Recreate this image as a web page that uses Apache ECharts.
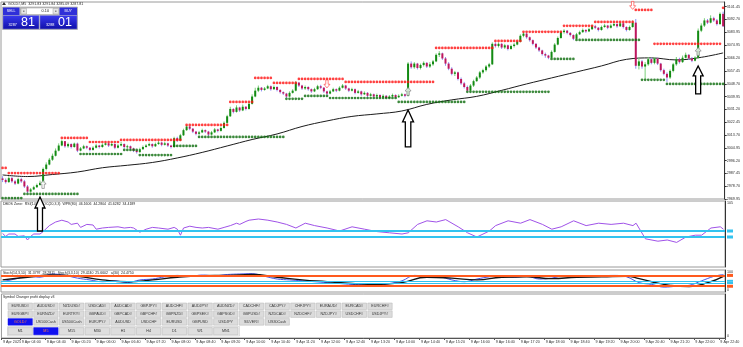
<!DOCTYPE html>
<html><head><meta charset="utf-8">
<script src="https://cdn.jsdelivr.net/npm/echarts@6/dist/echarts.min.js"></script>
<style>html,body{margin:0;padding:0;background:#fff;}#c{width:743px;height:347px;}</style>
</head><body><div id="c"></div>
<script>
// ---------- DATA ----------
const firstOpen = 2984.0;
const startTime = [3, 30]; // first bar 03:30, M5 bars
const closes = [
2983.0,2981.5,2984.2,2982.0,2980.5,2983.5,2982.0,2978.5,2975.0,2976.5,
2978.0,2979.5,2981.0,2990.5,2993.5,2996.8,2999.5,3003.0,3006.5,3009.5,
3006.0,3007.5,3005.5,3007.8,3003.0,3004.5,3006.0,3005.0,3003.5,3005.0,
3006.5,3005.5,3007.0,3008.0,3006.5,3007.5,3005.0,3006.5,3007.5,3005.5,
3006.0,3004.5,3003.0,3002.0,3004.0,3005.5,3006.5,3007.5,3006.0,3007.5,
3008.5,3007.0,3008.0,3006.5,3005.5,3011.5,3010.0,3013.5,3017.0,3019.5,
3018.0,3016.0,3014.5,3015.5,3017.0,3016.0,3014.0,3015.5,3017.5,3016.5,
3018.5,3022.0,3026.5,3031.5,3029.5,3032.5,3030.5,3033.0,3031.5,3035.0,
3040.0,3044.0,3046.0,3044.5,3045.5,3047.0,3045.0,3046.5,3044.5,3043.0,
3042.0,3040.0,3042.5,3044.0,3049.5,3047.5,3045.5,3046.5,3045.0,3043.5,
3045.0,3047.0,3046.0,3043.5,3042.0,3043.5,3045.0,3044.0,3046.0,3047.5,
3045.5,3044.0,3045.0,3042.5,3043.5,3041.5,3042.5,3040.5,3041.5,3040.0,
3041.0,3039.5,3040.5,3039.0,3040.0,3041.0,3039.5,3040.5,3041.5,3040.5,
3062.5,3060.0,3062.5,3059.5,3061.5,3063.0,3060.5,3062.0,3064.0,3068.5,
3069.5,3066.0,3062.5,3059.0,3055.5,3056.5,3052.0,3049.0,3046.5,3044.0,
3047.5,3050.5,3053.0,3056.5,3058.0,3060.5,3062.0,3076.0,3074.5,3076.0,
3073.5,3075.0,3072.5,3074.5,3075.5,3077.5,3081.5,3083.0,3080.5,3078.5,
3076.0,3073.5,3071.5,3069.0,3068.0,3066.5,3070.5,3075.5,3080.0,3084.0,
3085.0,3083.5,3082.0,3079.5,3082.5,3084.0,3085.5,3084.5,3086.0,3088.0,
3087.0,3085.5,3087.5,3088.5,3087.0,3088.5,3089.5,3088.0,3090.0,3087.5,
3085.5,3087.5,3090.5,3061.0,3064.0,3060.5,3062.0,3065.5,3063.0,3066.0,
3062.5,3058.0,3055.5,3053.0,3057.5,3062.0,3065.5,3063.5,3066.5,3068.5,
3066.0,3064.5,3066.5,3085.0,3088.5,3092.0,3090.5,3093.5,3092.0,3089.5,
3096.5,3088.0];
const highs = [
2985.5,2984.0,2985.5,2985.0,2983.0,2984.5,2984.5,2983.0,2979.5,2977.5,
2979.0,2980.5,2982.5,2991.5,2995.0,2998.0,3001.0,3004.5,3008.0,3010.5,
3009.5,3008.5,3008.0,3008.5,3008.5,3005.5,3007.0,3006.5,3005.5,3006.0,
3007.5,3007.0,3008.0,3008.5,3008.5,3008.5,3008.0,3007.5,3009.0,3008.0,
3007.0,3006.5,3005.0,3003.5,3005.0,3006.5,3007.5,3008.5,3008.0,3008.5,
3009.5,3009.0,3009.0,3008.5,3007.0,3012.5,3012.5,3014.5,3018.0,3020.5,
3020.0,3018.5,3016.5,3016.5,3018.0,3017.5,3016.5,3016.5,3018.5,3018.0,
3019.5,3023.0,3027.5,3033.0,3032.0,3034.0,3033.0,3034.5,3033.5,3036.0,
3041.5,3046.0,3047.5,3046.5,3046.5,3048.0,3047.5,3047.5,3047.0,3045.0,
3043.5,3042.5,3043.5,3045.0,3050.5,3050.0,3048.0,3047.5,3047.0,3045.5,
3046.0,3048.0,3048.0,3046.5,3044.0,3044.5,3046.0,3045.5,3047.0,3048.5,
3048.0,3046.0,3046.0,3045.5,3044.5,3044.0,3043.5,3043.0,3042.5,3042.0,
3042.0,3041.5,3041.5,3041.0,3041.0,3042.0,3041.5,3041.5,3042.5,3042.0,
3063.5,3064.0,3063.5,3063.0,3062.5,3064.0,3063.5,3063.5,3065.0,3069.5,
3071.0,3070.0,3067.0,3063.5,3060.0,3057.5,3057.0,3053.0,3050.0,3047.5,
3048.5,3051.5,3054.0,3057.5,3059.0,3061.5,3063.0,3077.0,3077.0,3077.0,
3076.5,3076.0,3075.5,3075.5,3076.5,3078.0,3082.5,3084.0,3083.5,3081.0,
3079.0,3076.5,3074.0,3072.0,3070.0,3068.5,3071.5,3076.5,3081.0,3085.0,
3086.0,3085.5,3084.0,3082.5,3083.5,3085.0,3086.5,3086.0,3087.0,3089.0,
3089.0,3087.5,3088.5,3089.5,3089.0,3089.5,3090.5,3090.0,3091.0,3090.5,
3088.0,3088.5,3092.0,3093.0,3066.5,3065.0,3063.5,3067.0,3066.5,3067.0,
3066.5,3063.0,3059.0,3056.5,3058.5,3063.0,3067.0,3066.5,3068.0,3070.0,
3069.0,3067.0,3067.5,3086.5,3090.0,3093.5,3093.0,3095.5,3094.5,3093.0,
3097.5,3098.0];
const lows = [
2981.5,2980.5,2981.0,2981.0,2979.5,2980.0,2981.0,2977.5,2974.0,2974.5,
2976.0,2977.5,2979.0,2980.5,2989.5,2993.0,2996.0,2999.0,3002.5,3006.0,
3005.0,3005.0,3004.5,3005.0,3002.0,3002.5,3004.0,3004.0,3002.5,3003.0,
3004.5,3004.5,3005.0,3006.5,3005.5,3006.0,3004.0,3004.5,3006.0,3004.5,
3004.5,3003.5,3002.0,3001.0,3001.5,3003.5,3005.0,3006.0,3005.0,3005.5,
3007.0,3006.0,3006.5,3005.5,3004.5,3005.0,3009.0,3009.5,3013.0,3016.5,
3017.0,3015.0,3013.5,3013.5,3015.0,3015.0,3013.0,3013.5,3015.0,3015.5,
3016.0,3018.0,3021.5,3026.0,3028.5,3029.0,3029.5,3030.0,3030.5,3031.0,
3034.5,3039.5,3043.0,3043.5,3044.0,3045.0,3044.0,3044.5,3043.5,3042.0,
3041.0,3039.0,3039.5,3042.0,3043.5,3046.5,3044.5,3044.5,3044.0,3042.5,
3043.0,3044.5,3045.0,3042.5,3041.0,3041.5,3043.0,3043.0,3043.5,3045.5,
3044.5,3043.0,3043.5,3041.5,3042.0,3040.5,3041.0,3039.5,3040.0,3039.5,
3039.5,3039.0,3039.0,3038.5,3038.5,3039.5,3039.0,3039.0,3040.0,3039.5,
3040.0,3059.0,3059.0,3058.5,3058.5,3060.5,3059.5,3059.5,3061.0,3063.5,
3067.0,3065.0,3061.0,3058.0,3054.5,3054.0,3051.0,3048.0,3045.5,3043.5,
3043.5,3046.5,3050.0,3052.0,3055.5,3057.0,3059.5,3061.5,3073.5,3073.5,
3072.5,3072.5,3071.5,3072.0,3073.5,3075.0,3077.0,3080.5,3079.5,3077.5,
3075.0,3072.5,3070.5,3068.0,3066.5,3065.5,3066.0,3070.0,3075.0,3079.5,
3083.0,3082.5,3081.0,3078.5,3079.0,3082.0,3083.5,3083.5,3084.0,3085.5,
3086.0,3084.5,3085.0,3087.0,3086.0,3086.5,3088.0,3087.0,3087.5,3086.5,
3084.5,3085.0,3087.0,3059.0,3058.5,3059.0,3052.0,3061.0,3062.0,3062.0,
3061.5,3057.0,3054.5,3050.0,3052.0,3056.5,3061.0,3062.5,3063.0,3066.0,
3065.0,3063.5,3064.0,3066.0,3084.0,3087.5,3089.5,3090.0,3091.0,3088.5,
3089.0,3087.5];

const priceTicks = [2969.95,2978.70,2987.45,2996.20,3004.95,3013.70,3022.45,3031.20,3039.95,3048.70,3057.45,3066.20,3074.95,3083.95,3092.70,3101.45];
const timeTicks = ['03:30','04:00','04:40','05:20','06:00','06:40','07:20','08:00','08:40','09:20','10:00','10:40','11:20','12:00','12:40','13:20','14:00','14:40','15:20','16:00','16:40','17:20','18:00','18:40','19:20','20:00','20:40','21:20','22:00','22:40'];
const firstTickLabel = '9 Apr 2025';
const dayLabel = '9 Apr';

// resistance / support level runs: [first bar, last bar, price]
const resistance = [[0,1,2991.2],[2,18,2987.7],[19,27,3011.7],[28,37,3008.9],[38,57,3010.3],[59,72,3020.6],[73,80,3036.3],[81,86,3052.7],[87,94,3049.3],[95,109,3052.0],[110,138,3050.0],[139,157,3073.2],[158,166,3078.0],[167,179,3084.2],[180,189,3088.3],[190,202,3091.0],[203,208,3099.2],[209,230,3076.0],[231,231,3100.6]];
const support = [[0,6,2970.6],[7,24,2973.4],[25,38,3000.7],[39,43,3003.5],[44,54,3000.0],[55,62,3006.2],[63,90,3012.4],[91,96,3038.4],[97,104,3040.4],[105,126,3039.0],[127,148,3036.3],[149,175,3043.2],[176,183,3065.7],[184,204,3078.7],[205,212,3051.4],[213,231,3048.6]];

// moving average samples
const maBars = [0,8,16,24,32,40,48,56,64,72,80,88,96,104,112,120,128,136,144,152,160,168,176,184,192,200,208,216,224,231];
const maVals = [2986.4,2985.3,2986.7,2988.4,2991.3,2993.0,2994.9,2998.0,3001.8,3006.2,3010.6,3014.4,3019.5,3023.3,3026.4,3028.1,3030.1,3034.6,3037.7,3040.1,3044.2,3048.6,3052.7,3056.8,3060.9,3065.4,3066.4,3065.0,3066.8,3069.8];

// signal arrows
const buySignals = [[13,2979.9],[130,3043.5],[223,3070.8]];
const sellSignals = [[104,3048.6],[202,3102.3]];
// hand drawn arrows: [bar, tip price]
const noteArrows = [[12,2971.3],[130,3030.8],[223,3060.9]];

// DBOS zone oscillator
const oscBars = [0,1,2,4,5,7,8,9,10,12,13,15,17,19,21,22,24,25,27,29,30,32,34,37,39,41,42,44,46,48,50,53,55,56,57,58,60,62,64,66,69,71,73,75,76,78,79,82,85,88,91,94,97,100,104,108,112,116,120,124,128,130,133,136,139,142,146,149,152,156,158,162,166,169,173,176,179,183,187,191,195,199,202,203,206,210,213,216,219,222,224,227,230,231];
const oscVals = [51,46,50,50,46,47,40,46,50,50,54,64,70,73,70,66,68,61,66,65,58,60,61,62,60,61,60,53,58,61,60,58,61,58,48,60,63,61,60,61,58,61,64,68,66,71,73,75,73,70,66,60,68,64,60,55,62,58,54,52,50,52,66,72,70,74,62,52,45,55,64,72,68,74,66,58,62,72,64,68,66,68,64,68,42,38,40,36,45,48,48,60,62,58];
const oscLevels = [55,45];

// stochastics
const stoBars = [0,8,16,24,32,40,48,56,64,72,80,88,96,104,112,120,128,136,144,152,160,168,176,184,192,200,204,208,214,220,226,231];
const stoSlow = [55,70,82,75,55,45,55,70,78,80,85,70,55,45,35,30,40,70,65,55,70,72,62,70,72,75,62,45,25,18,40,75];
const stoFastBars = [0,4,8,12,16,20,24,28,32,36,40,44,48,52,56,60,64,68,72,76,80,84,88,92,96,100,104,108,112,116,120,124,128,132,136,140,144,148,152,156,160,164,168,172,176,180,184,188,192,196,200,204,208,212,216,220,224,228,231];
const stoFast = [45,60,75,70,88,80,65,55,45,50,40,55,60,72,80,75,82,78,85,88,90,75,60,55,50,45,40,35,30,28,25,35,50,80,75,72,55,45,60,72,78,70,75,60,65,78,72,75,78,80,72,40,30,15,20,25,50,75,85];
const stoLevelsHot = [80,20];
const stoLevelsCool = [50,38];

// buttons
const symbolRows = [
 ['EURUSD#','AUDUSD#','NZDUSD#','USDCAD#','AUDCAD#','GBPJPY#','AUDCHF#','AUDJPY#','AUDNZD#','CADCHF#','CADJPY#','CHFJPY#','EURAUD#','EURCAD#','EURCHF#'],
 ['EURGBP#','EURNZD#','EURTRY#','GBPAUD#','GBPCAD#','GBPCHF#','GBPNZD#','GBPSEK#','GBPSGD#','GBPUSD#','NZDCAD#','NZDCHF#','NZDJPY#','USDCHF#','USDJPY#'],
 ['GOLD#','US100Cash','US500Cash','EURJPY#','AUDUSD','USDCHF','EURUSD','GBPUSD','USDJPY','SILVER#','US30Cash']
];
const timeframes = ['M1','M5','M15','M30','H1','H4','D1','W1','MN1'];
const activeSymbol = 'GOLD#', activeTf = 'M5';
const headerText = 'GOLD#,M5  3291.83 3291.84 3285.09 3287.81';
const lotText = '0.10';
const bidBig = ['3287','81'], askBig = ['3288','01'];
const oscTitle = 'DBOS Zone:  RSI(14)  STOC(20,3,3)  WPR(80)  46.1606  44.2804  41.6282  34.4189';
const stoTitle = 'Stoch(14,3,10)  31.3797  28.2811   Stoch(3,3,10)  29.4240  25.6602   a(30)  24.4750';
const panelTitle = 'Symbol Changer profit display v3';

// ---------- BUILD ----------
const N = closes.length;
const cats = [];
for (let i = 0; i < N; i++) {
  const m = startTime[0]*60 + startTime[1] + 5*i;
  const hh = String(Math.floor(m/60)).padStart(2,'0'), mm = String(m%60).padStart(2,'0');
  cats.push(hh + ':' + mm);
}
const candles = [];
for (let i = 0; i < N; i++) {
  const o = i === 0 ? firstOpen : closes[i-1];
  candles.push([i, o, closes[i], lows[i], highs[i]]);
}
function expand(runs){ const out=[]; runs.forEach(r=>{ for(let i=r[0];i<=r[1];i++) out.push([i,r[2]]); }); return out; }
const FONT = 'Liberation Sans';
const AX = 3.7;
const chart = echarts.init(document.getElementById('c'), null, {renderer:'canvas'});

const grids = [
  {left:1, top:2, width:724, height:197},
  {left:1, top:201, width:724, height:66},
  {left:1, top:270, width:724, height:22},
  {left:1, top:294, width:724, height:44}
].map(g => Object.assign(g, {show:true, borderColor:'#9a9a9a', borderWidth:1, backgroundColor:'#fff'}));

const xAxes = [0,1,2,3].map(k => ({
  type:'category', gridIndex:k, data:cats, boundaryGap:true,
  axisLine:{show:k===3, lineStyle:{color:'#555', width:1}},
  axisTick:{show:k===3, length:2, interval:(idx,v)=>timeTicks.includes(v), lineStyle:{color:'#555'}},
  axisLabel:{show:k===3, interval:(idx,v)=>timeTicks.includes(v), align:'left', margin:2, hideOverlap:false,
    fontSize:AX, fontFamily:FONT, color:'#333',
    formatter:(v,idx)=> idx===0 ? firstTickLabel : dayLabel + ' ' + v},
  splitLine:{show:false}
}));

const yAxes = [
  {type:'value', gridIndex:0, position:'right', min:2969.95, max:3104.6, scale:true,
   axisLine:{show:true, lineStyle:{color:'#333'}}, splitLine:{show:false},
   axisTick:{show:true, length:2, customValues:priceTicks, lineStyle:{color:'#333'}},
   axisLabel:{customValues:priceTicks, formatter:v=>v.toFixed(2), fontSize:AX, fontFamily:FONT, color:'#333', margin:2, showMinLabel:true, showMaxLabel:true}},
  {type:'value', gridIndex:1, position:'right', min:-5, max:105,
   axisLine:{show:true, lineStyle:{color:'#333'}}, splitLine:{show:false},
   axisTick:{show:false}, axisLabel:{customValues:[105], formatter:v=>String(v), fontSize:AX, fontFamily:FONT, color:'#333', margin:2, verticalAlign:'top'}},
  {type:'value', gridIndex:2, position:'right', min:-12, max:110,
   axisLine:{show:true, lineStyle:{color:'#333'}}, splitLine:{show:false},
   axisTick:{show:false}, axisLabel:{customValues:[100,0], formatter:v=>String(v), fontSize:AX, fontFamily:FONT, color:'#333', margin:2}},
  {type:'value', gridIndex:3, position:'right', min:0, max:1,
   axisLine:{show:true, lineStyle:{color:'#333'}}, splitLine:{show:false},
   axisTick:{show:false}, axisLabel:{customValues:[0], formatter:v=>String(v), fontSize:AX, fontFamily:FONT, color:'#333', margin:2, verticalAlign:'bottom'}}
];

const arrowPath = 'path://M5,0 L10,5 L7,5 L7,11 L3,11 L3,5 L0,5 Z';

const series = [
  {type:'line', xAxisIndex:0, yAxisIndex:0, data:maBars.map((b,k)=>[b,maVals[k]]), smooth:0.4, symbol:'none',
   lineStyle:{color:'#1c1c1c', width:1}, z:2},
  {type:'custom', xAxisIndex:0, yAxisIndex:0, data:candles, encode:{x:0, y:[1,2,3,4]}, z:3, clip:true,
   renderItem:function(params, api){
     const i=api.value(0), o=api.value(1), c=api.value(2), l=api.value(3), h=api.value(4);
     const pO=api.coord([i,o]), pC=api.coord([i,c]), pL=api.coord([i,l]), pH=api.coord([i,h]);
     const x=pO[0], up=c>=o, bw=2;
     const top=Math.min(pO[1],pC[1]), hh=Math.max(Math.abs(pO[1]-pC[1]),1);
     return {type:'group', children:[
       {type:'line', shape:{x1:x,y1:pH[1],x2:x,y2:pL[1]}, style:{stroke: up?'#79cf79':'#8f8ff6', lineWidth:1}},
       {type:'rect', shape:{x:x-bw/2, y:top, width:bw, height:hh}, style:{fill: up?'#138a13':'#bf165c'}}
     ]};
   }},
  {type:'scatter', xAxisIndex:0, yAxisIndex:0, data:expand(resistance), symbol:'circle', symbolSize:2.7,
   itemStyle:{color:'#ff1010'}, z:4, silent:true},
  {type:'scatter', xAxisIndex:0, yAxisIndex:0, data:expand(support), symbol:'circle', symbolSize:2.7,
   itemStyle:{color:'#0b6b0b'}, z:4, silent:true},
  {type:'scatter', xAxisIndex:0, yAxisIndex:0, data:buySignals, symbol:arrowPath, symbolSize:[6,8],
   itemStyle:{color:'#fff', borderColor:'#7a7a7a', borderWidth:0.8}, z:5},
  {type:'scatter', xAxisIndex:0, yAxisIndex:0, data:sellSignals, symbol:arrowPath, symbolSize:[6,8], symbolRotate:180,
   itemStyle:{color:'#fff', borderColor:'#ff3b3b', borderWidth:0.8}, z:5},
  // oscillator
  {type:'line', xAxisIndex:1, yAxisIndex:1, data:oscBars.map((b,k)=>[b,oscVals[k]]), symbol:'none',
   lineStyle:{color:'#a052e8', width:1}, z:3,
   markLine:{silent:true, symbol:'none', lineStyle:{color:'#33c3ef', width:2, type:'solid'},
     label:{show:true, position:'end', formatter:'', backgroundColor:'#33c3ef', padding:[1.5,3], distance:2},
     data:oscLevels.map(v=>({yAxis:v}))}},
  // stochastic
  {type:'line', xAxisIndex:2, yAxisIndex:2, data:stoBars.map((b,k)=>[b,stoSlow[k]]), smooth:0.5, symbol:'none',
   lineStyle:{color:'#141414', width:1.4}, z:4,
   markLine:{silent:true, symbol:'none', lineStyle:{color:'#ff5a1e', width:2, type:'solid'},
     label:{show:true, position:'end', formatter:'', backgroundColor:'#ff5a1e', padding:[1.5,3], distance:2},
     data:stoLevelsHot.map(v=>({yAxis:v}))}},
  {type:'line', xAxisIndex:2, yAxisIndex:2, data:stoFastBars.map((b,k)=>[b,stoFast[k]]), smooth:0.4, symbol:'none',
   lineStyle:{color:'#4b55e0', width:1}, z:3,
   markLine:{silent:true, symbol:'none', lineStyle:{color:'#33c3ef', width:1.2, type:'solid'},
     label:{show:true, position:'end', formatter:'', backgroundColor:'#33c3ef', padding:[1,3], distance:2},
     data:stoLevelsCool.map(v=>({yAxis:v}))}}
];

// ---------- graphics (UI chrome) ----------
const gfx = [];
function txt(x,y,s,size,color){ return {type:'text', x, y, style:{text:s, fontSize:size, fontFamily:FONT, fill:color||'#222'}, z:50}; }
// header
gfx.push({type:'polygon', shape:{points:[[2,5],[4,2],[6,5]]}, style:{fill:'#333'}, z:50});
gfx.push(txt(8,1.5,headerText,3.6,'#222'));
// one-click trading panel
gfx.push({type:'rect', shape:{x:2.5,y:7,width:75,height:22.5}, style:{fill:'#c8c8c8', stroke:'#9a9a9a', lineWidth:0.6}, z:48});
gfx.push({type:'rect', shape:{x:3,y:7.5,width:16.5,height:7.5}, style:{fill:'#2f2fd8'}, z:49});
gfx.push({type:'text', x:11.2, y:9.3, style:{text:'SELL', fontSize:3.6, fontFamily:FONT, fill:'#fff', align:'center'}, z:51});
gfx.push({type:'rect', shape:{x:20.5,y:8,width:39,height:6.5}, style:{fill:'#fff', stroke:'#999', lineWidth:0.5}, z:49});
gfx.push({type:'rect', shape:{x:21,y:8.5,width:5.5,height:5.5}, style:{fill:'#e6e6e6', stroke:'#888', lineWidth:0.4}, z:50});
gfx.push({type:'rect', shape:{x:53,y:8.5,width:5.5,height:5.5}, style:{fill:'#e6e6e6', stroke:'#888', lineWidth:0.4}, z:50});
gfx.push({type:'rect', shape:{x:23,y:10.8,width:1.5,height:0.8}, style:{fill:'#333'}, z:51});
gfx.push({type:'rect', shape:{x:55,y:10.8,width:1.5,height:0.8}, style:{fill:'#333'}, z:51});
gfx.push({type:'text', x:49, y:9.4, style:{text:lotText, fontSize:3.8, fontFamily:FONT, fill:'#222', align:'right'}, z:51});
gfx.push({type:'rect', shape:{x:59.5,y:7.5,width:17.5,height:7.5}, style:{fill:'#2f2fd8'}, z:49});
gfx.push({type:'text', x:68.2, y:9.3, style:{text:'BUY', fontSize:3.6, fontFamily:FONT, fill:'#fff', align:'center'}, z:51});
const grad = new echarts.graphic.LinearGradient(0,0,0,1,[{offset:0,color:'#3a3af0'},{offset:1,color:'#0f0fa8'}]);
gfx.push({type:'rect', shape:{x:3,y:15.5,width:36,height:13.5}, style:{fill:grad, stroke:'#8888cc', lineWidth:0.5}, z:49});
gfx.push({type:'rect', shape:{x:40,y:15.5,width:37,height:13.5}, style:{fill:grad, stroke:'#8888cc', lineWidth:0.5}, z:49});
gfx.push(txt(8.5,22.5,bidBig[0],3.8,'#fff'));
gfx.push({type:'text', x:21, y:16.3, style:{text:bidBig[1], fontSize:12.5, fontFamily:FONT, fill:'#fff'}, z:51});
gfx.push(txt(46,22.5,askBig[0],3.8,'#fff'));
gfx.push({type:'text', x:58, y:16.3, style:{text:askBig[1], fontSize:12.5, fontFamily:FONT, fill:'#fff'}, z:51});
// sub-window titles
gfx.push(txt(3,202.5,oscTitle,3.5,'#222'));
gfx.push(txt(3,270.8,stoTitle,3.5,'#222'));
gfx.push(txt(3,295.2,panelTitle,3.5,'#222'));
// button panel
const bx0 = 8, pitch = 25.7, bwid = 24.4, bh = 6.6, rowsY = [303, 310.8, 318.6];
symbolRows.forEach((row, r) => row.forEach((s, c) => {
  const x = bx0 + c*pitch, y = rowsY[r], act = s === activeSymbol;
  gfx.push({type:'rect', shape:{x, y, width:bwid, height:bh}, style:{fill: act?'#1010f0':'#dcdcdc', stroke: act?'#1010f0':'#b4b4b4', lineWidth:0.5}, z:49});
  gfx.push({type:'text', x:x+bwid/2, y:y+1.4, style:{text:s, fontSize:3.7, fontFamily:FONT, fill: act?'#ff7a3a':'#333', align:'center'}, z:50});
}));
gfx.push({type:'rect', shape:{x:7.5, y:326.5, width:232, height:9.5}, style:{fill:'#f4f4f4', stroke:'#c4c4c4', lineWidth:0.5}, z:48});
timeframes.forEach((s, c) => {
  const x = bx0 + c*pitch, y = 327.6, act = s === activeTf;
  gfx.push({type:'rect', shape:{x, y, width:bwid, height:7.2}, style:{fill: act?'#1010f0':'#dedede', stroke: act?'#1010f0':'#b4b4b4', lineWidth:0.5}, z:49});
  gfx.push({type:'text', x:x+bwid/2, y:y+1.7, style:{text:s, fontSize:3.7, fontFamily:FONT, fill: act?'#ff7a3a':'#333', align:'center'}, z:50});
});

chart.setOption({
  animation:false, backgroundColor:'#ffffff',
  grid:grids, xAxis:xAxes, yAxis:yAxes, series:series, graphic:gfx
});

// hand-drawn hollow arrows anchored to data coordinates
const arrowDims = [[10,34,11,5],[11,37,12,5.5],[10,28,10,5]];
const extra = noteArrows.map((a,k) => {
  const p = chart.convertToPixel({xAxisIndex:0, yAxisIndex:0}, [a[0], a[1]]);
  const [W,H,Hh,S] = arrowDims[k];
  const x = p[0], y = p[1];
  return {type:'polygon', shape:{points:[[x,y],[x+W/2,y+Hh],[x+S/2,y+Hh],[x+S/2,y+H],[x-S/2,y+H],[x-S/2,y+Hh],[x-W/2,y+Hh]]},
          style:{fill:'#fff', stroke:'#000', lineWidth:1.3}, z:60};
});
chart.setOption({graphic: gfx.concat(extra)}, {replaceMerge:['graphic']});
</script></body></html>
